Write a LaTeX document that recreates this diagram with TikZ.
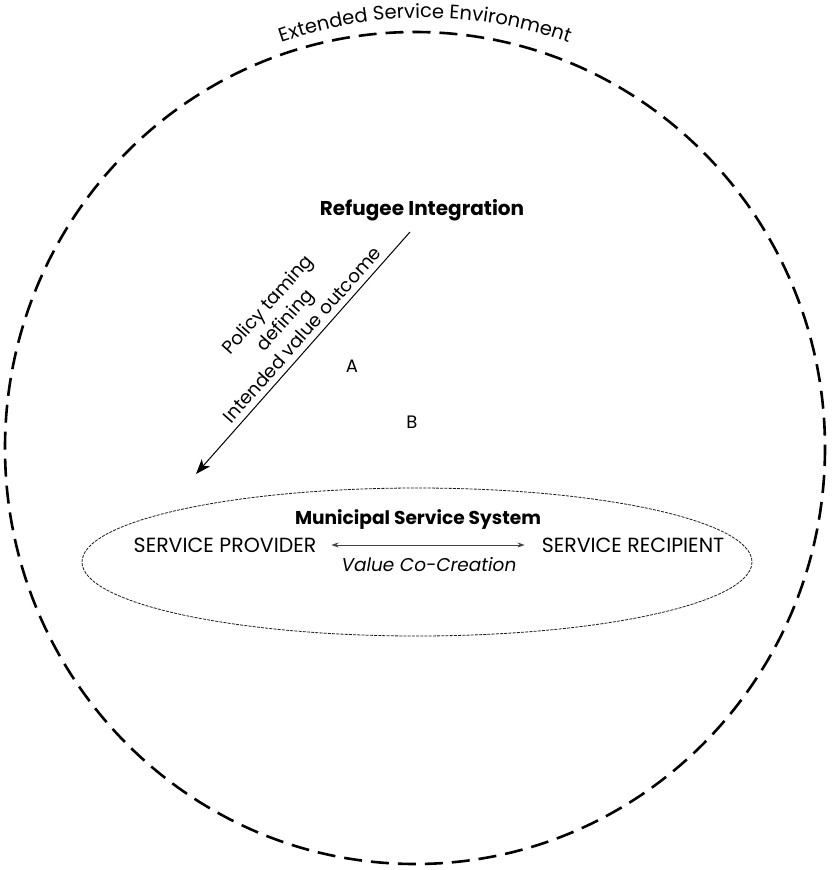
\documentclass[tikz,border=0pt]{standalone}
\usepackage{fontspec}
\setmainfont{Poppins}
\usetikzlibrary{arrows.meta,decorations.text,calc}

\begin{document}
\begin{tikzpicture}[x=1pt,y=-1pt,
  outerring/.style={line width=2.6pt, dash pattern=on 18pt off 9pt},
  systemring/.style={line width=0.8pt, dash pattern=on 3pt off 1.2pt, draw=black!90},
  label/.style={font=\fontsize{20.5}{24}\selectfont, inner sep=1pt},
  title/.style={font=\fontsize{18.6}{22}\selectfont\bfseries, inner sep=1pt},
  policyarrow/.style={line width=1pt, -{Stealth[length=15pt, width=11pt, inset=4pt]}},
  exchange/.style={line width=0.8pt, draw=black!75, {Stealth[length=7pt,width=5pt]}-{Stealth[length=7pt,width=5pt]}}
]
\useasboundingbox (0,0) rectangle (831,870);

% extended service environment
\draw[outerring] (415,448) ellipse [x radius=410, y radius=416];
\path[decorate, decoration={text along path, text align=center,
      text={|\fontsize{19.5}{22}\selectfont|Extended Service Environment}}]
  (425,452) ++(-135:434) arc [start angle=-135, end angle=-45, radius=434];

% municipal service system
\draw[systemring] (417,562) ellipse [x radius=335, y radius=74];
\node[title] (mss) at (418,520) {Municipal Service System};
\node[label] (provider) at (225,545) {SERVICE PROVIDER};
\node[label] (recipient) at (633,545) {SERVICE RECIPIENT};
\draw[exchange] ($(provider.east)+(14,0)$) coordinate (exl) -- ($(recipient.west)+(-16,0)$) coordinate (exr);
\node[label, font=\fontsize{18.5}{22}\selectfont\itshape] (vcc) at (429,565) {Value Co-Creation};

% refugee integration policy
\node[title, font=\fontsize{20}{24}\selectfont\bfseries] (ri) at (422,210) {Refugee Integration};
\coordinate (ptop) at (410,232);
\coordinate (pend) at (196,474);
\draw[policyarrow] (ptop) -- (pend);
\node[label, font=\fontsize{18.5}{23}\selectfont, rotate=48.4, anchor=south, align=center, inner sep=6pt]
  (policy) at ($(ptop)!0.46!(pend)$) {Policy taming\\defining\\Intended value outcome};

\node[label, font=\fontsize{18}{22}\selectfont] (a) at (352,366) {A};
\node[label, font=\fontsize{18}{22}\selectfont] (b) at (412,422) {B};
\end{tikzpicture}
\end{document}
